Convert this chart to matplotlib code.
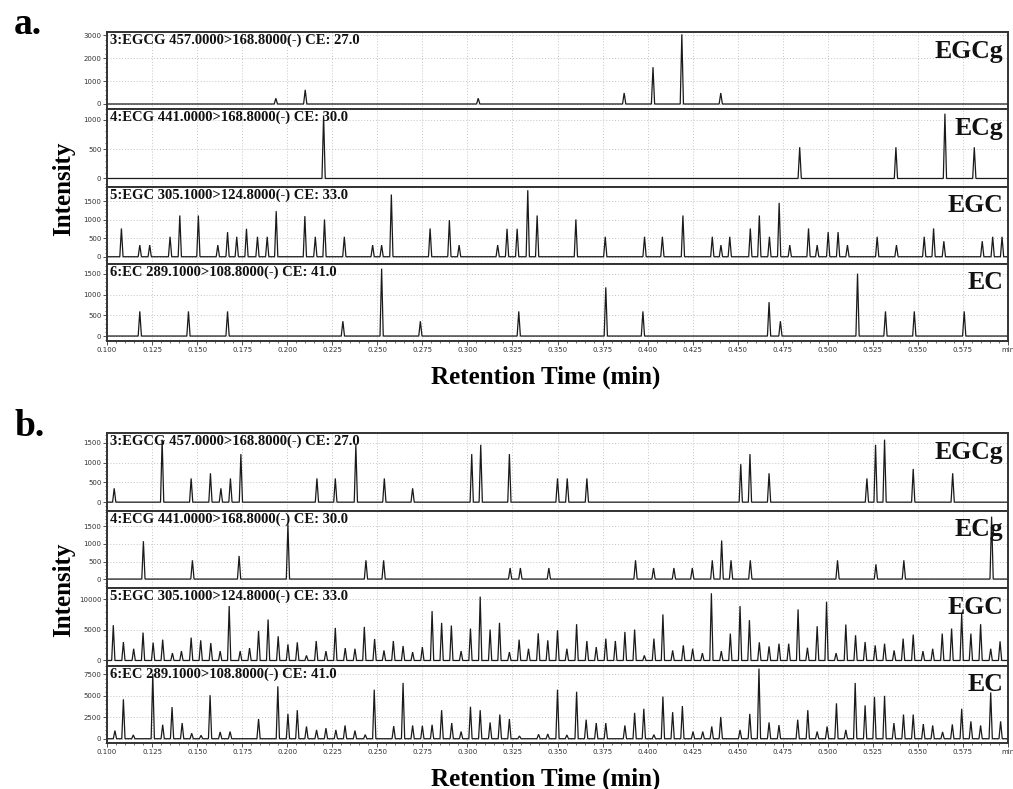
"""Stacked MRM chromatograms of tea catechins (panels a and b)."""

import numpy as np
import matplotlib.pyplot as plt
from matplotlib.ticker import MultipleLocator, FixedLocator, FuncFormatter

W_PX, H_PX, DPI = 1013, 789, 100
SERIF = ["Liberation Serif", "DejaVu Serif"]

# channel titles and short names (same for both panels)
channel_titles = [
    "3:EGCG 457.0000>168.8000(-) CE: 27.0",
    "4:ECG 441.0000>168.8000(-) CE: 30.0",
    "5:EGC 305.1000>124.8000(-) CE: 33.0",
    "6:EC 289.1000>108.8000(-) CE: 41.0",
]
channel_names = ["EGCg", "ECg", "EGC", "EC"]

# ---- panel a: retention times (min) and peak heights ----
a_egcg_rt = [0.1937, 0.2100, 0.3060, 0.3870, 0.4030, 0.4190, 0.4406]
a_egcg_h = [250, 620, 250, 480, 1610, 3050, 480]

a_ecg_rt = [0.2202, 0.4844, 0.5378, 0.5650, 0.5813]
a_ecg_h = [1070, 530, 530, 1100, 530]

a_egc_rt = [0.1080, 0.1182, 0.1237, 0.1350, 0.1404, 0.1507, 0.1615, 0.1669,
            0.1720, 0.1774, 0.1835, 0.1889, 0.1939, 0.2098, 0.2156, 0.2207,
            0.2317, 0.2474, 0.2524, 0.2578, 0.2793, 0.2900, 0.2954, 0.3168,
            0.3220, 0.3276, 0.3335, 0.3387, 0.3602, 0.3765, 0.3983, 0.4082,
            0.4196, 0.4359, 0.4407, 0.4456, 0.4570, 0.4620, 0.4676, 0.4730,
            0.4789, 0.4893, 0.4941, 0.5002, 0.5057, 0.5109, 0.5274, 0.5381,
            0.5535, 0.5587, 0.5644, 0.5857, 0.5915, 0.5967]
a_egc_h = [765, 315, 315, 540, 1116, 1116, 315, 666,
           540, 756, 540, 540, 1233, 1098, 540, 1008,
           540, 315, 315, 1683, 765, 990, 315, 315,
           756, 756, 1800, 1116, 1008, 540, 540, 540,
           1116, 540, 315, 540, 765, 1116, 540, 1458,
           315, 765, 315, 666, 666, 315, 540, 315,
           540, 765, 420, 420, 540, 540]

a_ec_rt = [0.1182, 0.1452, 0.1669, 0.2309, 0.2524, 0.2739, 0.3285, 0.3768,
           0.3974, 0.4674, 0.4737, 0.5165, 0.5320, 0.5480, 0.5757]
a_ec_h = [595, 595, 595, 357, 1628, 357, 595, 1175,
          595, 818, 357, 1508, 595, 595, 595]

# ---- panel b ----
b_egcg_rt = [0.1040, 0.1306, 0.1467, 0.1574, 0.1632, 0.1685, 0.1743, 0.2165,
             0.2267, 0.2381, 0.2539, 0.2696, 0.3024, 0.3074, 0.3233, 0.3500,
             0.3554, 0.3663, 0.4517, 0.4568, 0.4674, 0.5217, 0.5265, 0.5315,
             0.5474, 0.5693]
b_egcg_h = [350, 1580, 600, 730, 350, 600, 1215, 600,
            600, 1450, 600, 350, 1215, 1450, 1215, 600,
            600, 600, 960, 1215, 730, 600, 1450, 1580,
            840, 730]

b_ecg_rt = [0.1202, 0.1474, 0.1733, 0.2004, 0.2437, 0.2535, 0.3237, 0.3294,
            0.3452, 0.3933, 0.4033, 0.4146, 0.4248, 0.4359, 0.4411, 0.4463,
            0.4570, 0.5054, 0.5267, 0.5422, 0.5909]
b_ecg_h = [1080, 535, 660, 1560, 535, 535, 315, 315,
           315, 535, 315, 315, 315, 535, 1100, 535,
           535, 535, 420, 535, 1780]

b_egc_rt = [0.1035, 0.1091, 0.1148, 0.1200, 0.1256, 0.1309, 0.1363, 0.1413,
            0.1467, 0.1520, 0.1576, 0.1628, 0.1678, 0.1739, 0.1791, 0.1841,
            0.1894, 0.1950, 0.2004, 0.2056, 0.2107, 0.2161, 0.2215, 0.2267,
            0.2322, 0.2376, 0.2428, 0.2485, 0.2537, 0.2589, 0.2643, 0.2696,
            0.2750, 0.2804, 0.2857, 0.2911, 0.2965, 0.3017, 0.3071, 0.3126,
            0.3178, 0.3233, 0.3287, 0.3339, 0.3393, 0.3446, 0.3500, 0.3552,
            0.3606, 0.3663, 0.3715, 0.3768, 0.3821, 0.3874, 0.3928, 0.3982,
            0.4035, 0.4085, 0.4139, 0.4198, 0.4250, 0.4304, 0.4354, 0.4409,
            0.4459, 0.4513, 0.4565, 0.4620, 0.4674, 0.4729, 0.4783, 0.4835,
            0.4887, 0.4941, 0.4993, 0.5046, 0.5100, 0.5154, 0.5207, 0.5263,
            0.5315, 0.5368, 0.5418, 0.5474, 0.5528, 0.5582, 0.5635, 0.5687,
            0.5743, 0.5794, 0.5848, 0.5904, 0.5956]
b_egc_h = [5775, 3025, 1925, 4565, 2915, 3410, 1210, 1540,
           3740, 3300, 2860, 1540, 8910, 1540, 2035, 4840,
           6710, 3960, 2640, 2970, 825, 3190, 1540, 5335,
           2035, 1925, 5500, 3520, 1650, 3190, 2365, 1375,
           2200, 8085, 6160, 5720, 1540, 5225, 10450, 5060,
           6160, 1375, 3410, 1925, 4450, 3300, 4950, 1925,
           5940, 3190, 2200, 3575, 3190, 4675, 5060, 825,
           3575, 7535, 1650, 2475, 1925, 1210, 11000, 1540,
           4400, 8910, 6600, 2970, 2310, 2750, 2750, 8360,
           2090, 5610, 9625, 1210, 5885, 4125, 3025, 2475,
           2750, 1650, 3575, 4235, 1540, 1925, 4400, 5225,
           7700, 4400, 5940, 1925, 3135]

b_ec_rt = [0.1044, 0.1091, 0.1146, 0.1254, 0.1309, 0.1361, 0.1417, 0.1470,
           0.1522, 0.1572, 0.1628, 0.1683, 0.1841, 0.1948, 0.2004, 0.2056,
           0.2107, 0.2163, 0.2215, 0.2270, 0.2321, 0.2376, 0.2433, 0.2483,
           0.2591, 0.2643, 0.2696, 0.2750, 0.2804, 0.2857, 0.2913, 0.2965,
           0.3017, 0.3071, 0.3126, 0.3180, 0.3233, 0.3289, 0.3395, 0.3446,
           0.3500, 0.3552, 0.3606, 0.3659, 0.3715, 0.3768, 0.3874, 0.3928,
           0.3979, 0.4035, 0.4085, 0.4139, 0.4193, 0.4252, 0.4306, 0.4356,
           0.4406, 0.4513, 0.4567, 0.4618, 0.4674, 0.4729, 0.4833, 0.4889,
           0.4941, 0.4996, 0.5048, 0.5100, 0.5152, 0.5207, 0.5259, 0.5315,
           0.5367, 0.5420, 0.5474, 0.5530, 0.5582, 0.5637, 0.5691, 0.5743,
           0.5794, 0.5848, 0.5904, 0.5959]
b_ec_h = [950, 4600, 440, 7580, 1630, 3690, 1830, 635,
          400, 5080, 795, 835, 2300, 6110, 2900, 3330,
          1430, 1030, 1230, 1030, 1550, 950, 475, 5720,
          1470, 6510, 1550, 1510, 1630, 3330, 1830, 835,
          3730, 3330, 1900, 2820, 2300, 320, 515, 555,
          5720, 440, 5480, 2220, 1830, 1830, 1550, 3020,
          3490, 475, 4920, 3100, 3810, 835, 835, 1430,
          2540, 1030, 2900, 8180, 1900, 1590, 2220, 3330,
          835, 1430, 4130, 1030, 6510, 3890, 4880, 5000,
          1830, 2820, 2820, 1710, 1550, 795, 1670, 3490,
          2025, 1550, 5400, 2025]

# y ranges and tick steps per strip
a_ylims = [(-230, 3150), (-136, 1175), (-190, 1900), (-120, 1745)]
a_ysteps = [1000, 500, 500, 500]
b_ylims = [(-211, 1748), (-255, 1955), (-820, 11860), (-500, 8540)]
b_ysteps = [500, 500, 5000, 2500]

X_MIN, X_MAX = 0.100, 0.600
HALF_W = 0.0009  # half base width of a peak, min


def peak_trace(rts, heights):
    """Turn a list of peaks into a polyline with a flat baseline."""
    xs, ys = [X_MIN], [0.0]
    for rt, h in sorted(zip(rts, heights)):
        xs += [rt - HALF_W, rt, rt + HALF_W]
        ys += [0.0, h, 0.0]
    xs.append(X_MAX)
    ys.append(0.0)
    return np.array(xs), np.array(ys)


def fx(px):
    return px / W_PX


def fy(py):
    return 1 - py / H_PX


def xtick_fmt(v, pos):
    if abs(v - 0.600) < 1e-6:
        return "min"
    return f"{v:.3f}"


def draw_panel(fig, top_px, bot_px, traces, ylims, ysteps):
    left, right = 107, 1008
    strip_h = (bot_px - top_px) / 4
    axes = []
    for i, ((rts, hs), ylim, ystep) in enumerate(zip(traces, ylims, ysteps)):
        t0 = top_px + i * strip_h
        ax = fig.add_axes([fx(left), fy(t0 + strip_h), fx(right - left), strip_h / H_PX])
        x, y = peak_trace(rts, hs)
        ax.plot(x, y, color="#1a1a1a", lw=0.9, solid_joinstyle="miter")
        ax.set_xlim(X_MIN, X_MAX)
        ax.set_ylim(*ylim)
        ax.xaxis.set_major_locator(MultipleLocator(0.025))
        ax.xaxis.set_minor_locator(MultipleLocator(0.005))
        ax.yaxis.set_major_locator(FixedLocator(np.arange(0, ylim[1], ystep)))
        ax.yaxis.set_minor_locator(MultipleLocator(ystep / 5))
        ax.grid(True, which="major", color="#c4c4c4", ls=(0, (1, 2)), lw=0.7)
        ax.tick_params(axis="both", which="major", labelsize=5, length=3,
                       width=0.6, colors="#333333", pad=1)
        ax.tick_params(axis="both", which="minor", length=1.5, width=0.5,
                       colors="#333333")
        for sp in ax.spines.values():
            sp.set_linewidth(1.4)
            sp.set_color("#333333")
        if i < 3:
            ax.tick_params(axis="x", which="both", labelbottom=False, length=0)
        else:
            ax.xaxis.set_major_formatter(FuncFormatter(xtick_fmt))
        ax.text(0.003, 0.98, channel_titles[i], transform=ax.transAxes,
                ha="left", va="top", fontsize=10.5, fontweight="bold",
                family=SERIF, color="#111111")
        ax.text(0.995, 0.90, channel_names[i], transform=ax.transAxes,
                ha="right", va="top", fontsize=18.5, fontweight="bold",
                family=SERIF, color="#111111")
        axes.append(ax)
    mid = (top_px + bot_px) / 2
    fig.text(fx(64), fy(mid + 2), "Intensity", rotation=90, ha="center",
             va="center", fontsize=18, fontweight="bold", family=SERIF)
    fig.text(fx(546), fy(bot_px + 36), "Retention Time (min)", ha="center",
             va="center", fontsize=18, fontweight="bold", family=SERIF)
    return axes


fig = plt.figure(figsize=(W_PX / DPI, H_PX / DPI), dpi=DPI)

a_traces = [(a_egcg_rt, a_egcg_h), (a_ecg_rt, a_ecg_h),
            (a_egc_rt, a_egc_h), (a_ec_rt, a_ec_h)]
b_traces = [(b_egcg_rt, b_egcg_h), (b_ecg_rt, b_ecg_h),
            (b_egc_rt, b_egc_h), (b_ec_rt, b_ec_h)]

draw_panel(fig, 32, 341, a_traces, a_ylims, a_ysteps)
draw_panel(fig, 433, 743, b_traces, b_ylims, b_ysteps)

fig.text(fx(14), fy(25), "a.", ha="left", va="center", fontsize=27,
         fontweight="bold", family=SERIF)
fig.text(fx(14), fy(427), "b.", ha="left", va="center", fontsize=27,
         fontweight="bold", family=SERIF)

fig.savefig("out.png", dpi=DPI)
